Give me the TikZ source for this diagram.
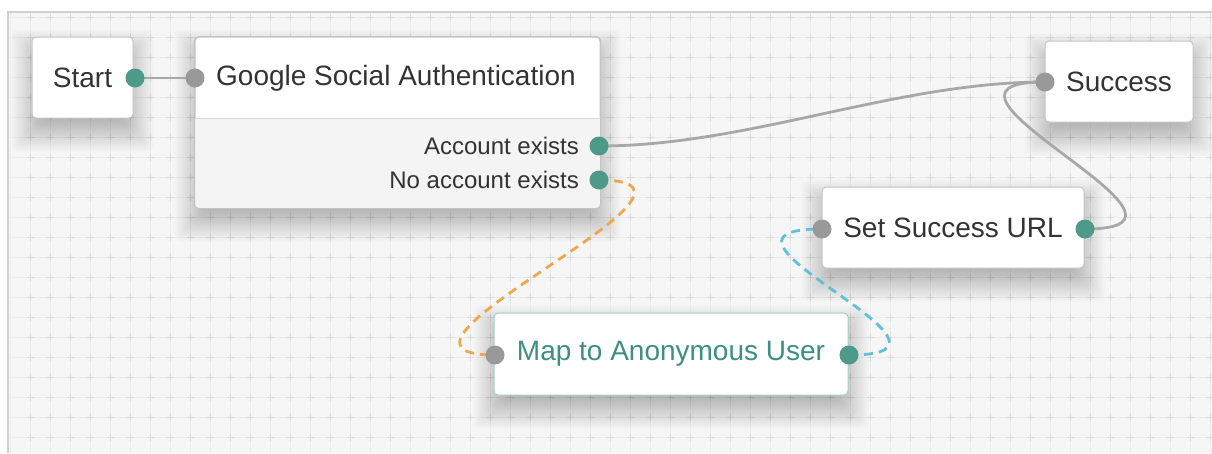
\documentclass[tikz,border=0pt]{standalone}
\usepackage{fontspec}
\setmainfont{Liberation Sans}
\usetikzlibrary{calc}
\pgfdeclarelayer{canvaslayer}
\pgfdeclarelayer{shadowlayer}
\pgfsetlayers{canvaslayer,shadowlayer,main}
\definecolor{canvas}{HTML}{F6F6F6}
\definecolor{gridline}{HTML}{EDEDED}
\definecolor{gridcross}{HTML}{DADADA}
\definecolor{framegray}{HTML}{D0D0D0}
\definecolor{boxborder}{HTML}{C4C4C4}
\definecolor{bodyfill}{HTML}{F4F4F4}
\definecolor{dividerc}{HTML}{DADADA}
\definecolor{teal}{HTML}{4E9A8A}
\definecolor{portgray}{HTML}{999999}
\definecolor{wiregray}{HTML}{A8A8A8}
\definecolor{orangec}{HTML}{EBA84E}
\definecolor{cyanc}{HTML}{60BFDB}
\definecolor{txt}{HTML}{333333}
\definecolor{maptxt}{HTML}{3E8F80}
\definecolor{mapborder}{HTML}{A6CFC5}
\newcommand\softshadow[1]{%
  \begin{pgfonlayer}{shadowlayer}
  \foreach \k in {0,...,16} {
    \pgfmathsetmacro\ee{-12+2*\k}
    \fill[black, opacity=0.016, rounded corners=6pt]
      ($(#1.north west)+(-\ee,-\ee+13)$) rectangle ($(#1.south east)+(\ee,\ee+13)$);
  }
  \end{pgfonlayer}}
\begin{document}
\begin{tikzpicture}[x=1pt,y=-1pt,
  box/.style={draw=boxborder, line width=1pt, fill=white, rounded corners=4pt,
    inner sep=0pt, text=txt, font=\fontsize{28}{32}\selectfont},
  port/.style={circle, inner sep=0pt, minimum size=19pt},
  small/.style={inner sep=0pt, text=txt, font=\fontsize{24}{28}\selectfont},
  wire/.style={draw=wiregray, line width=2.8pt},
  dashwire/.style={draw=#1, line width=2.8pt, dash pattern=on 9pt off 6pt}
]
\useasboundingbox (0,0) rectangle (1212,453);
\begin{pgfonlayer}{canvaslayer}
\fill[white] (0,0) rectangle (1212,453);
\fill[canvas] (8,12) rectangle (1212,453);
\foreach \x in {10,30,...,1210} \draw[gridline, line width=1pt] (\x,12) -- (\x,453);
\foreach \y in {17,37,...,437} \draw[gridline, line width=1pt] (8,\y) -- (1212,\y);
\foreach \x in {30,50,...,1210}
  \draw[gridcross, line width=1pt] foreach \y in {17,37,...,437} {(\x-3.5,\y) -- (\x+3.5,\y) (\x,\y-3.5) -- (\x,\y+3.5)};
\draw[framegray, line width=1.5pt] (8,453) -- (8,12) -- (1212,12);
\end{pgfonlayer}

% boxes
\node[box, minimum width=101pt, minimum height=81pt] (start) at (82.5,77.5) {Start};
\node[box, minimum width=405pt, minimum height=171pt] (google) at (397.5,122.5) {};
\begin{scope}
  \clip[rounded corners=4pt] (google.north west) rectangle (google.south east);
  \fill[bodyfill] (195,118) rectangle (600,208);
\end{scope}
\draw[dividerc, line width=1pt] (195,118) -- (600,118);
\draw[boxborder, line width=1pt, rounded corners=4pt] (google.north west) rectangle (google.south east);
\node[inner sep=0pt, text=txt, font=\fontsize{28}{32}\selectfont, anchor=west] (gtitle) at (216,78) {Google Social Authentication};
\node[small, anchor=east] (acclbl) at (579,146) {Account exists};
\node[small, anchor=east] (noacclbl) at (579,180) {No account exists};

\node[box, minimum width=148pt, minimum height=81pt] (success) at (1119,81.5) {Success};
\node[box, minimum width=262pt, minimum height=81pt] (ssu) at (953,227.5) {Set Success URL};
\node[box, draw=mapborder, text=maptxt, minimum width=354pt, minimum height=82pt] (map) at (671,354) {Map to Anonymous User};

\softshadow{start}
\softshadow{google}
\softshadow{success}
\softshadow{ssu}
\softshadow{map}

% ports (positions)
\node[port] (startout) at (135,78) {};
\node[port] (gin) at (195,78) {};
\node[port] (accout) at (599,146) {};
\node[port] (noaccout) at (599,180) {};
\node[port] (sin) at (1045,82) {};
\node[port] (ssuin) at (822,229) {};
\node[port] (ssuout) at (1085,229) {};
\node[port] (mapin) at (495,355) {};
\node[port] (mapout) at (849,355) {};

% connectors
\draw[wire] (startout.center) -- (gin.center);
\draw[wire] (accout.center) .. controls +(150,0) and +(-150,0) .. (sin.center);
\draw[wire] (ssuout.center) .. controls +(155,0) and +(-155,0) .. (sin.center);
\draw[dashwire=orangec] (noaccout.center) .. controls +(155,0) and +(-155,0) .. (mapin.center);
\draw[dashwire=cyanc] (mapout.center) .. controls +(150,0) and +(-150,0) .. (ssuin.center);

% port discs on top
\foreach \p/\c in {startout/teal, gin/portgray, accout/teal, noaccout/teal, sin/portgray, ssuin/portgray, ssuout/teal, mapin/portgray, mapout/teal}
  \fill[\c] (\p.center) circle (9.5pt);
\end{tikzpicture}
\end{document}
